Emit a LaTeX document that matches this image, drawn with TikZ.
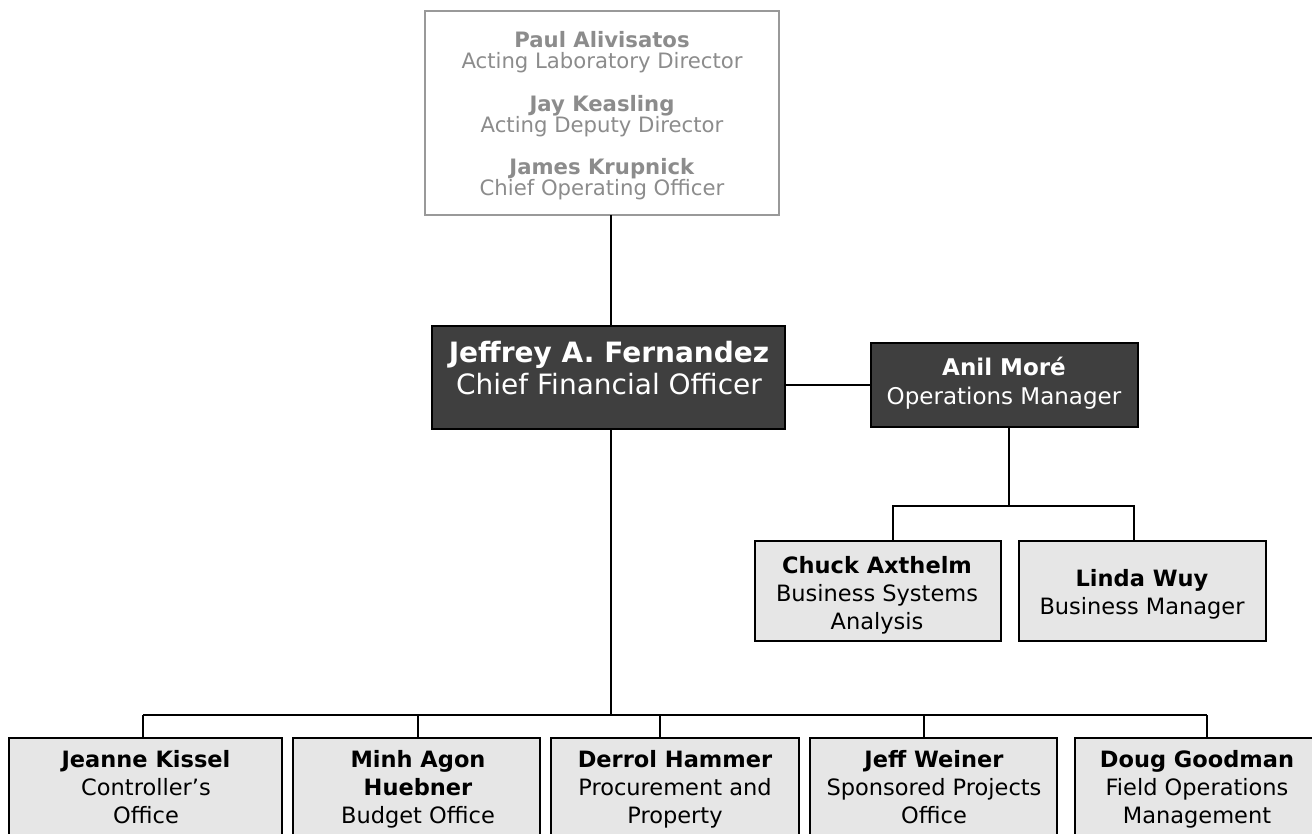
\documentclass[tikz,border=0pt]{standalone}
\usepackage{fontspec}
\setmainfont{DejaVu Sans}
\definecolor{darkfill}{HTML}{3F3F3F}
\definecolor{lightfill}{HTML}{E6E6E6}
\definecolor{graybd}{HTML}{999999}
\definecolor{graytxt}{HTML}{8C8C8C}
\begin{document}
\begin{tikzpicture}[x=1pt,y=-1pt,
  box/.style={draw, rectangle, line width=2pt, inner sep=0pt, outer sep=0pt, anchor=north west},
  execbox/.style={box, fill=darkfill, draw=black},
  subbox/.style={box, fill=lightfill, draw=black},
  headbox/.style={box, fill=white, draw=graybd},
  txt/.style={inner sep=0pt, outer sep=0pt, anchor=north, align=center},
  subtxt/.style={txt, font={\fontsize{22.5}{28}\selectfont\lineskiplimit=-50pt}},
  conn/.style={line width=2pt, draw=black}]
\clip (0,0) rectangle (1312,833);
\fill[white] (0,0) rectangle (1312,833);

% boxes
\node[headbox, minimum width=354pt, minimum height=204pt] (top) at (425,11) {};
\node[execbox, minimum width=353pt, minimum height=103pt] (cfo) at (432,326) {};
\node[execbox, minimum width=267pt, minimum height=84pt] (anil) at (871,343) {};
\node[subbox, minimum width=246pt, minimum height=100pt] (chuck) at (755,541) {};
\node[subbox, minimum width=247pt, minimum height=100pt] (linda) at (1019,541) {};
\node[subbox, minimum width=273pt, minimum height=130pt] (jeanne) at (9,738) {};
\node[subbox, minimum width=247pt, minimum height=130pt] (minh) at (293,738) {};
\node[subbox, minimum width=248pt, minimum height=130pt] (derrol) at (551,738) {};
\node[subbox, minimum width=247pt, minimum height=130pt] (jeff) at (810,738) {};
\node[subbox, minimum width=260pt, minimum height=130pt] (doug) at (1075,738) {};

% texts
\node[txt, text=graytxt, font={\fontsize{21.2}{21}\selectfont\lineskiplimit=-50pt}] (topt) at (602,22)
  {\rule{0pt}{25pt}\textbf{Paul Alivisatos}\\Acting Laboratory Director\\[22pt]
   \textbf{Jay Keasling}\\Acting Deputy Director\\[21pt]
   \textbf{James Krupnick}\\Chief Operating Officer};
\node[txt, text=white, font={\fontsize{28}{32}\selectfont\lineskiplimit=-50pt}] (cfot) at (609,332)
  {\rule{0pt}{30pt}\textbf{Jeffrey A. Fernandez}\\Chief Financial Officer};
\node[txt, text=white, font={\fontsize{23}{29}\selectfont}] (anilt) at (1004,350)
  {\rule{0pt}{25pt}\textbf{Anil Moré}\\Operations Manager};
\node[subtxt] (chuckt) at (877,548)
  {\rule{0pt}{25pt}\textbf{Chuck Axthelm}\\Business Systems\\Analysis};
\node[subtxt] (lindat) at (1142,561)
  {\rule{0pt}{25pt}\textbf{Linda Wuy}\\Business Manager};
\node[subtxt] (jeannet) at (146,742)
  {\rule{0pt}{25pt}\textbf{Jeanne Kissel}\\Controller’s\\Office};
\node[subtxt] (minht) at (418,742)
  {\rule{0pt}{25pt}\textbf{Minh Agon}\\\textbf{Huebner}\\Budget Office};
\node[subtxt] (derrolt) at (675,742)
  {\rule{0pt}{25pt}\textbf{Derrol Hammer}\\Procurement and\\Property};
\node[subtxt] (jefft) at (934,742)
  {\rule{0pt}{25pt}\textbf{Jeff Weiner}\\Sponsored Projects\\Office};
\node[subtxt] (dougt) at (1197,742)
  {\rule{0pt}{25pt}\textbf{Doug Goodman}\\Field Operations\\Management};

% junction coordinates
\coordinate (opsbus) at (1009,506);
\coordinate (opsL) at (893,506);
\coordinate (opsR) at (1134,506);
\coordinate (mainbus) at (611,715);
\coordinate (b1) at (143,715);
\coordinate (b2) at (418,715);
\coordinate (b3) at (660,715);
\coordinate (b4) at (924,715);
\coordinate (b5) at (1207,715);

% connectors
\draw[conn] (top.south -| mainbus) -- (cfo.north -| mainbus);
\draw[conn] (anil.west) -- (anil.west -| cfo.east);
\draw[conn, line width=2.5pt] (anil.south -| opsbus) -- (opsbus);
\draw[conn] (chuck.north -| opsL) -- (opsL) -- (opsR) -- (linda.north -| opsR);
\draw[conn] (cfo.south -| mainbus) -- (mainbus);
\draw[conn] (b1) -- (b5);
\draw[conn] (b1) -- (jeanne.north -| b1);
\draw[conn] (b2) -- (minh.north -| b2);
\draw[conn] (b3) -- (derrol.north -| b3);
\draw[conn] (b4) -- (jeff.north -| b4);
\draw[conn] (b5) -- (doug.north -| b5);
\end{tikzpicture}
\end{document}
